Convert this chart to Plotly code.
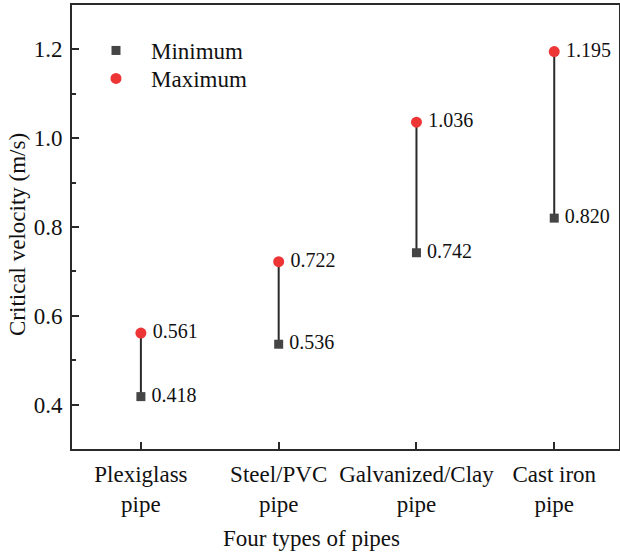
import plotly.graph_objects as go

categories = ["Plexiglass<br>pipe", "Steel/PVC<br>pipe", "Galvanized/Clay<br>pipe", "Cast iron<br>pipe"]
x_pos = [1, 2, 3, 4]
minimum = [0.418, 0.536, 0.742, 0.820]
maximum = [0.561, 0.722, 1.036, 1.195]
y_ticks = [0.4, 0.6, 0.8, 1.0, 1.2]

FONT = "Liberation Serif"
W, H = 620, 553
L, R, T, B = 72, 1, 5, 104
pw, ph = W - L - R, H - T - B

seg_x, seg_y = [], []
for xi, lo, hi in zip(x_pos, minimum, maximum):
    seg_x += [xi, xi, None]
    seg_y += [lo, hi, None]

fig = go.Figure()
fig.add_trace(go.Scatter(x=seg_x, y=seg_y, mode="lines",
                         line=dict(color="#2a2a2a", width=2), showlegend=False, hoverinfo="skip"))
fig.add_trace(go.Scatter(x=x_pos, y=minimum, mode="markers+text", name="Minimum", legend="legend",
                         marker=dict(symbol="square", size=9, color="#454545"),
                         text=[f"\u2009{v:.3f}" for v in minimum], textposition="middle right",
                         textfont=dict(family=FONT, size=20, color="#111")))
fig.add_trace(go.Scatter(x=x_pos, y=maximum, mode="markers+text", name="Maximum", legend="legend2",
                         marker=dict(symbol="circle", size=11, color="#ee3535"),
                         text=[f"\u2009{v:.3f}" for v in maximum], textposition="middle right",
                         textfont=dict(family=FONT, size=20, color="#111")))

leg_common = dict(xanchor="left", yanchor="top", bgcolor="rgba(0,0,0,0)",
                  font=dict(family=FONT, size=23, color="#111"), itemwidth=60)

fig.update_layout(
    width=W, height=H,
    margin=dict(l=L, r=R, t=T, b=B, autoexpand=False),
    paper_bgcolor="white", plot_bgcolor="white",
    font=dict(family=FONT, size=23, color="#111"),
    legend=dict(x=(81 - L) / pw, y=1 - (29 - T) / ph, **leg_common),
    legend2=dict(x=(81 - L) / pw, y=1 - (57 - T) / ph, **leg_common),
    xaxis=dict(range=[0.5, 4.47], tickmode="array", tickvals=x_pos, ticktext=categories,
               automargin=False, ticklabelstandoff=3,
               showline=True, linecolor="#2a2a2a", linewidth=2, mirror=True,
               ticks="inside", ticklen=7, tickwidth=1.5, tickcolor="#2a2a2a",
               showgrid=False, zeroline=False, tickfont=dict(family=FONT, size=23)),
    yaxis=dict(range=[0.3, 1.3], tickmode="array", tickvals=y_ticks,
               ticktext=[f"{v:.1f}" for v in y_ticks], automargin=False,
               showline=True, linecolor="#2a2a2a", linewidth=2, mirror=True,
               ticks="inside", ticklen=7, tickwidth=1.5, tickcolor="#2a2a2a",
               ticklabelstandoff=3,
               minor=dict(tickvals=[0.5, 0.7, 0.9, 1.1], ticks="inside", ticklen=4,
                          tickwidth=1.5, tickcolor="#2a2a2a"),
               showgrid=False, zeroline=False, tickfont=dict(family=FONT, size=23)),
    annotations=[
        dict(text="Critical velocity (m/s)", textangle=-90, xref="paper", yref="paper",
             x=(17 - L) / pw, y=1 - (235 - T) / ph, showarrow=False,
             font=dict(family=FONT, size=23), xanchor="center", yanchor="middle"),
        dict(text="Four types of pipes", xref="paper", yref="paper",
             x=(311 - L) / pw, y=1 - (538 - T) / ph, showarrow=False,
             font=dict(family=FONT, size=23), xanchor="center", yanchor="middle"),
    ],
)

fig.write_html("out.html", config={"displayModeBar": False},
               post_script="document.body.style.margin='0';")
